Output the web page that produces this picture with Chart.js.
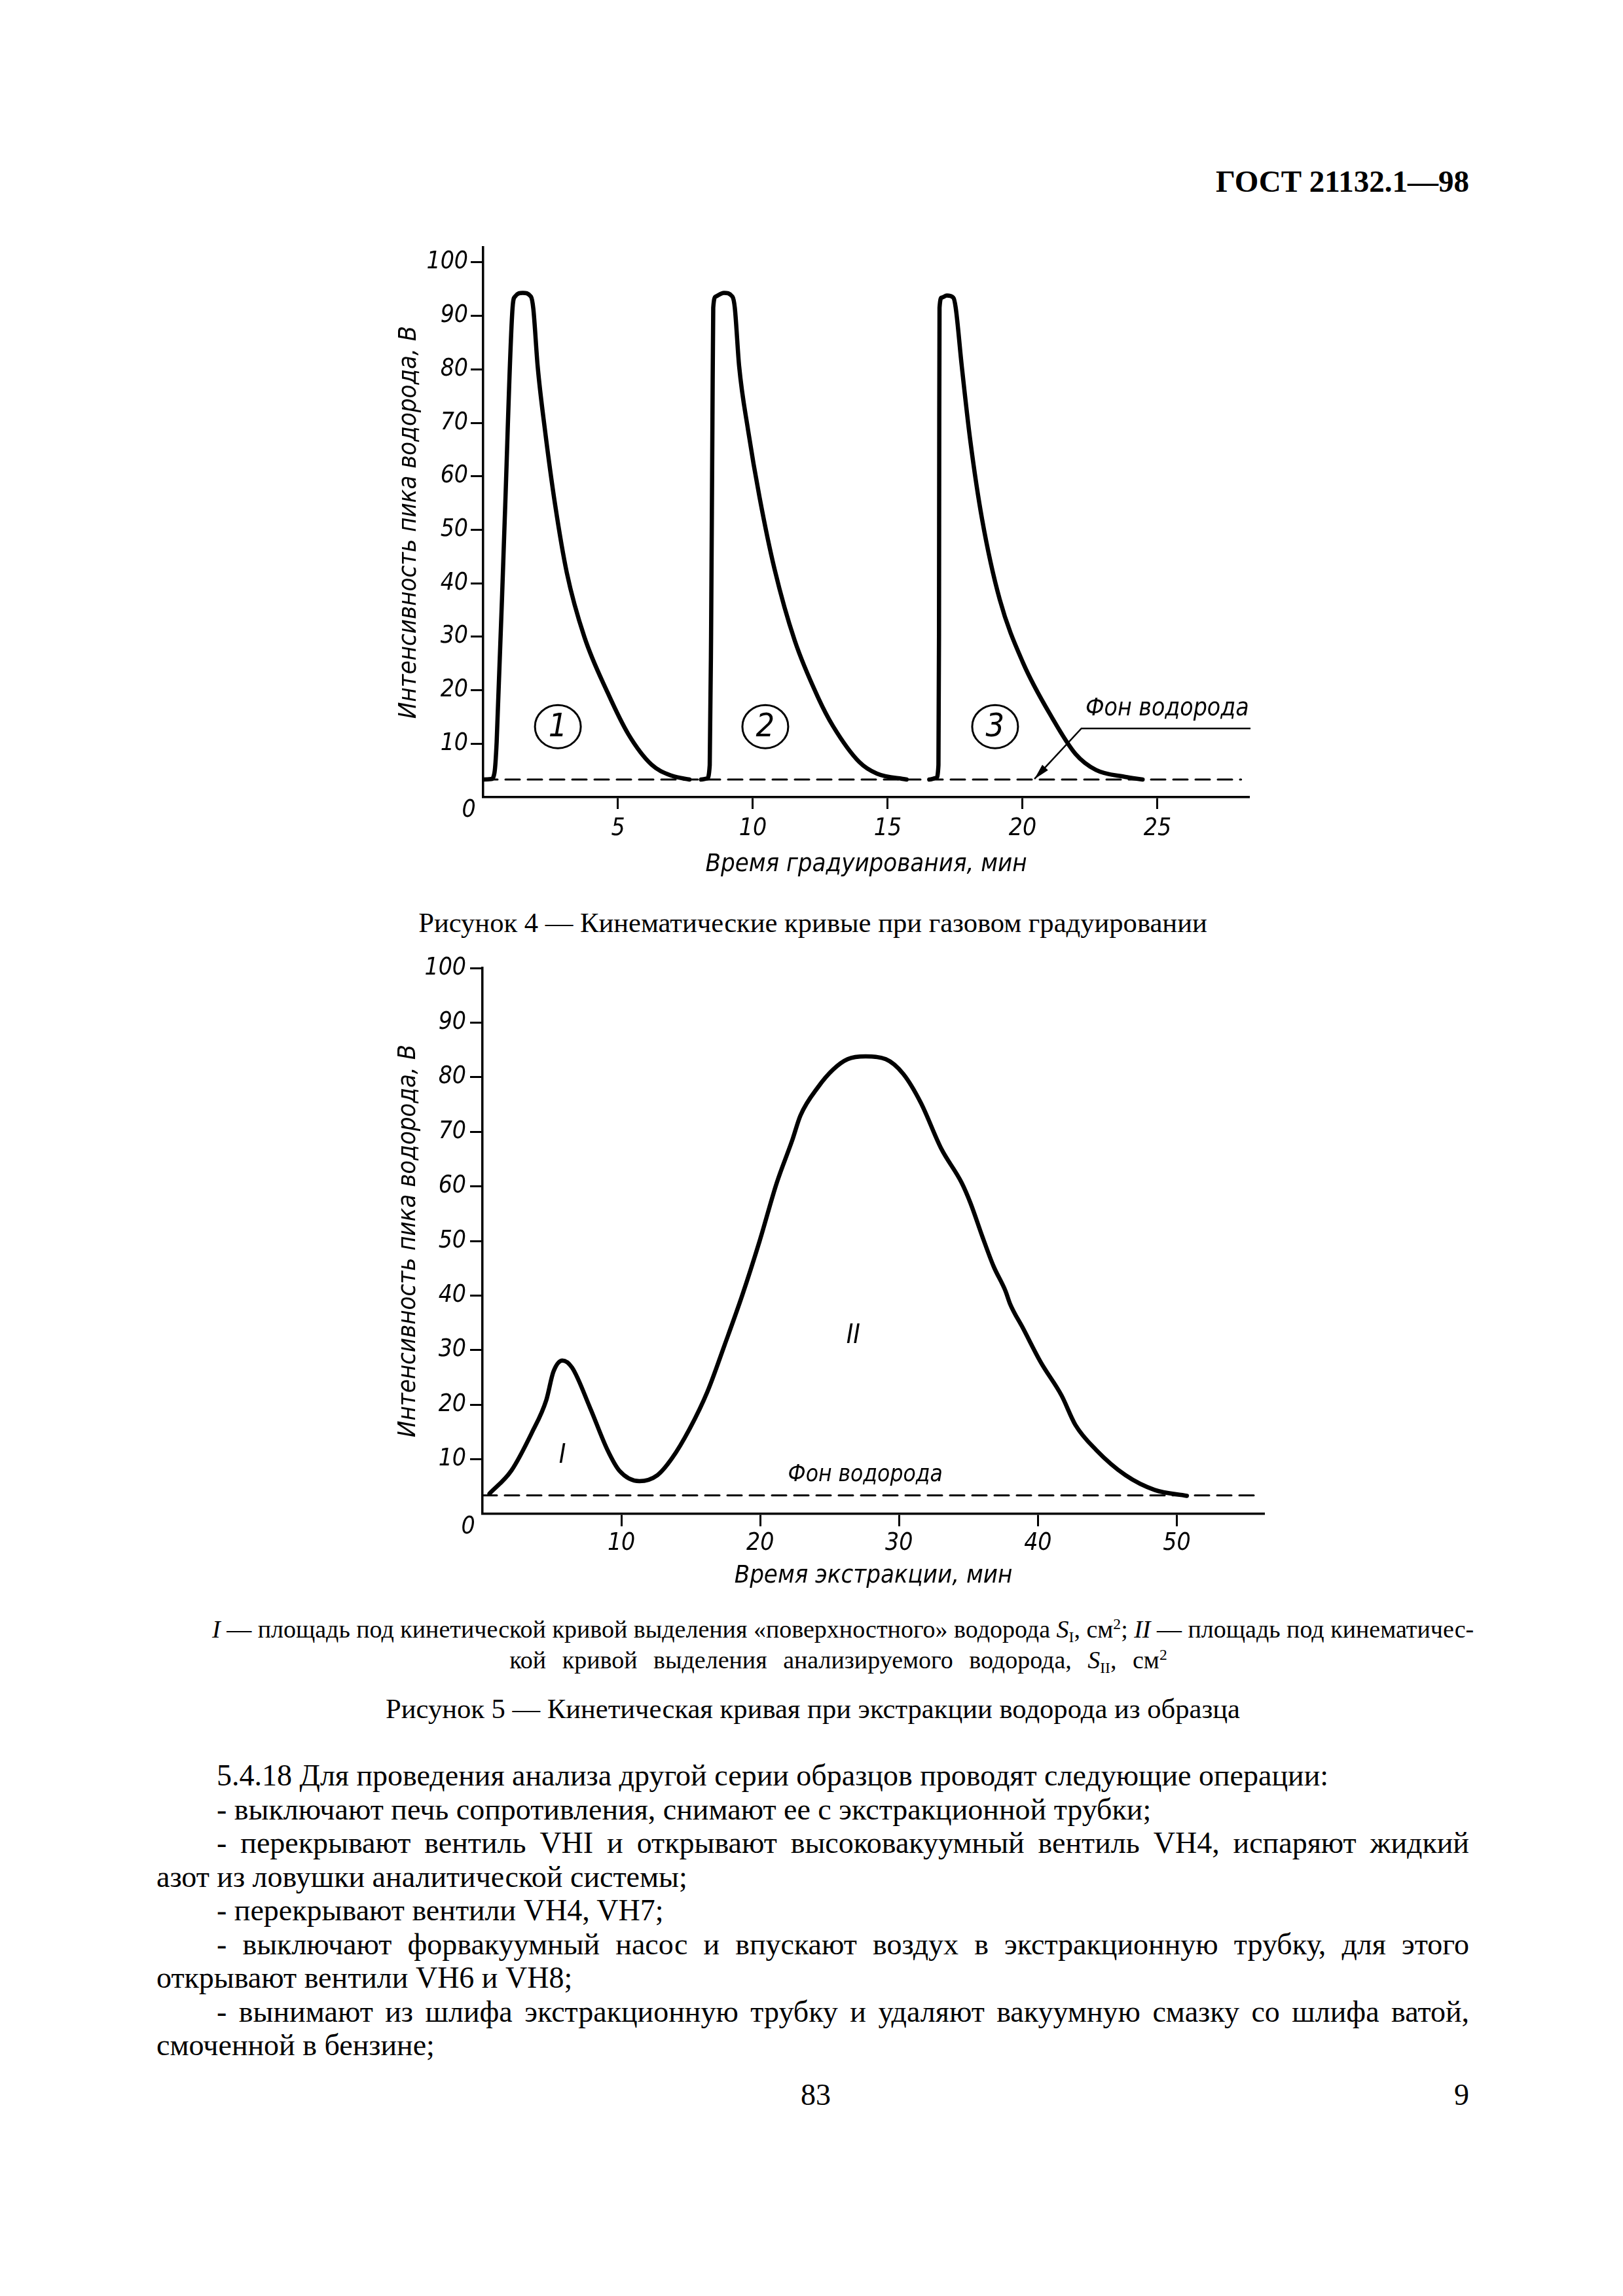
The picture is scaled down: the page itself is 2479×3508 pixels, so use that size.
<!DOCTYPE html>
<html lang="ru">
<head>
<meta charset="utf-8">
<title>ГОСТ 21132.1—98, с. 9</title>
<script src="https://cdn.jsdelivr.net/npm/chart.js@4.4.1/dist/chart.umd.min.js"></script>
<style>
  html, body { margin: 0; padding: 0; background: #fff; }
  body {
    width: 2479px; height: 3508px; position: relative; overflow: hidden; color: #000;
    font-family: "Liberation Serif", "Times New Roman", "DejaVu Serif", serif;
  }
  .abs { position: absolute; white-space: nowrap; }
  canvas { position: absolute; left: 560px; }
  #head { right: 235px; top: 254px; font-size: 47px; line-height: 47px; font-weight: bold; }
  .cap { left: 239px; width: 2005px; text-align: center; font-size: 42.6px; line-height: 48px; }
  .legend { position: absolute; left: 324px; width: 1913px; font-size: 38px; line-height: 47px; }
  .legend div { white-space: nowrap; }
  .legend .c { word-spacing: 15px; }
  .text { position: absolute; left: 239px; top: 2687px; width: 2005px; font-size: 46px; line-height: 51.5px; }
  .text div { white-space: nowrap; }
  .ind { padding-left: 92px; }
  .j { text-align: justify; text-align-last: justify; }
  .c { text-align: center; text-align-last: center; }
  sub, sup { font-size: 62%; line-height: 0; }
  sub { vertical-align: -0.3em; }
  sup { vertical-align: 0.55em; }
</style>
</head>
<body>
<div id="head" class="abs">ГОСТ 21132.1—98</div>

<canvas id="fig4" width="1400" height="1000" style="top:360px"></canvas>
<div class="abs cap" style="top:1386px">Рисунок 4 — Кинематические кривые при газовом градуировании</div>

<canvas id="fig5" width="1400" height="1020" style="top:1440px"></canvas>
<div class="legend" style="top:2466px">
  <div class="j"><i>I</i> — площадь под кинетической кривой выделения «поверхностного» водорода <i>S</i><sub>I</sub>, см<sup>2</sup>; <i>II</i> — площадь под кинематичес-</div>
  <div class="c">кой кривой выделения анализируемого водорода, <i>S</i><sub>II</sub>, см<sup>2</sup></div>
</div>
<div class="abs cap" style="top:2587px">Рисунок 5 — Кинетическая кривая при экстракции водорода из образца</div>

<div class="text">
  <div class="ind">5.4.18 Для проведения анализа другой серии образцов проводят следующие операции:</div>
  <div class="ind">- выключают печь сопротивления, снимают ее с экстракционной трубки;</div>
  <div class="ind j">- перекрывают вентиль VHI и открывают высоковакуумный вентиль VH4, испаряют жидкий</div>
  <div>азот из ловушки аналитической системы;</div>
  <div class="ind">- перекрывают вентили VH4, VH7;</div>
  <div class="ind j">- выключают форвакуумный насос и впускают воздух в экстракционную трубку, для этого</div>
  <div>открывают вентили VH6 и VH8;</div>
  <div class="ind j">- вынимают из шлифа экстракционную трубку и удаляют вакуумную смазку со шлифа ватой,</div>
  <div>смоченной в бензине;</div>
</div>

<div class="abs" style="left:1146px;width:200px;text-align:center;top:3175px;font-size:46px;line-height:51.5px">83</div>
<div class="abs" style="right:235px;top:3175px;font-size:46px;line-height:51.5px">9</div>

<script>
// Рисунок 4: время градуирования, мин / интенсивность, В
const peak1Time  = [0, 0.3, 0.42, 0.5, 0.8, 1.09, 1.18, 1.47, 1.77, 1.86, 2.02, 2.29, 2.67, 3.1, 3.75, 4.62, 5.38, 6.24, 7.0, 7.65];
const peak1Value = [3.3, 3.4, 4.6, 10.3, 52, 91.5, 93.6, 94.3, 93.6, 91.3, 80.6, 68.7, 54.6, 42.0, 30.0, 19.5, 11.8, 6.1, 4.0, 3.3];

const peak2Time  = [8.08, 8.3, 8.4, 8.45, 8.5, 8.53, 8.62, 8.93, 9.24, 9.33, 9.49, 9.82, 10.25, 10.8, 11.55, 12.43, 12.97, 13.94, 14.6, 15.7];
const peak2Value = [3.3, 3.5, 6.0, 30, 70, 91.5, 93.6, 94.3, 93.6, 91.5, 80.6, 68.7, 56.0, 42.7, 29.3, 18.5, 13.3, 6.6, 4.4, 3.3];

const peak3Time  = [16.54, 16.8, 16.88, 16.9, 16.91, 16.92, 17.0, 17.19, 17.43, 17.52, 17.74, 18.06, 18.5, 19.15, 20.01, 21.1, 21.96, 22.72, 23.8, 24.45];
const peak3Value = [3.3, 3.6, 6.0, 30, 70, 91.5, 93.4, 93.8, 93.4, 91.5, 80.8, 66.7, 51.9, 37.0, 25.2, 14.8, 8.1, 5.1, 3.8, 3.3];

const fig4BackTime  = [0, 28.1];
const fig4BackValue = [3.3, 3.3];

const fig4XTicks = [5, 10, 15, 20, 25];
const fig4YTicks = [10, 20, 30, 40, 50, 60, 70, 80, 90, 100];

// Рисунок 5: время экстракции, мин / интенсивность, В
const extractTime  = [0.5, 2.07, 3.54, 4.6, 5.1, 5.75, 6.45, 7.75, 9.0, 9.86, 11.3, 12.6, 13.65, 14.9, 16.2, 17.43, 18.7, 19.96, 21.2, 22.3, 22.9,
                      24.2, 25.25, 26.3, 27.6, 29.04, 30.3, 31.57, 33.04, 34.5, 35.15, 36.0, 36.8, 37.67, 37.99, 38.95, 40.2, 41.7, 42.7, 44.2, 46.3, 48.4, 50.73];
const extractValue = [3.7, 7.9, 14.8, 20.9, 26.0, 28.1, 26.8, 19.4, 11.7, 7.9, 6.0, 7.1, 10.2, 15.5, 22.4, 30.9, 40.0, 50.0, 60.7, 68.4, 73.0,
                      78.3, 81.4, 83.3, 83.8, 83.3, 80.6, 75.3, 66.9, 60.7, 56.9, 50.8, 45.4, 40.8, 38.5, 33.9, 27.8, 21.7, 16.3, 11.7, 7.1, 4.4, 3.3];

const fig5BackTime  = [0, 55.8];
const fig5BackValue = [3.4, 3.4];

const fig5XTicks = [10, 20, 30, 40, 50];
const fig5YTicks = [10, 20, 30, 40, 50, 60, 70, 80, 90, 100];

const techFont = '"Liberation Sans Narrow", "DejaVu Sans Condensed", "Liberation Sans", sans-serif';
const tickFont = { family: techFont, size: 37, style: 'italic', lineHeight: 1.2 };
const titleFont = { family: techFont, size: 38, style: 'italic', lineHeight: 1.2 };

const toPoints = (xs, ys) => xs.map((x, i) => ({ x: x, y: ys[i] }));

const curve = (xs, ys) => ({
  data: toPoints(xs, ys),
  borderColor: '#000',
  borderWidth: 6.5,
  cubicInterpolationMode: 'monotone',
  fill: false,
});

const dashed = (xs, ys) => ({
  data: toPoints(xs, ys),
  borderColor: '#000',
  borderWidth: 3,
  borderDash: [22, 12],
  tension: 0,
  fill: false,
});

// подписи внутри поля графика: "0", номера в кружках, "Фон водорода", выноска
const notesPlugin = {
  id: 'notes',
  afterDatasetsDraw(chart, args, opts) {
    const ctx = chart.ctx;
    const sx = chart.scales.x, sy = chart.scales.y;
    const px = v => sx.getPixelForValue(v);
    const py = v => sy.getPixelForValue(v);
    ctx.save();
    ctx.fillStyle = '#000';
    ctx.strokeStyle = '#000';

    ctx.font = 'italic 37px ' + techFont;
    ctx.textAlign = 'center';
    ctx.textBaseline = 'middle';
    ctx.fillText('0', px(0) - 22, py(0) + 20);

    (opts.circles || []).forEach(c => {
      const cx = px(c.x), cy = py(c.y);
      ctx.lineWidth = 3;
      ctx.beginPath();
      ctx.ellipse(cx, cy, 35, 33, 0, 0, Math.PI * 2);
      ctx.stroke();
      ctx.font = 'italic 50px ' + techFont;
      ctx.fillText(c.label, cx, cy + 2);
    });

    (opts.texts || []).forEach(t => {
      ctx.font = 'italic ' + t.size + 'px ' + techFont;
      ctx.textAlign = t.align || 'center';
      ctx.textBaseline = t.baseline || 'middle';
      ctx.fillText(t.text, px(t.x), py(t.y));
    });

    if (opts.leader) {
      const p = opts.leader.map(d => [px(d[0]), py(d[1])]);
      ctx.lineWidth = 2.5;
      ctx.beginPath();
      ctx.moveTo(p[0][0], p[0][1]);
      p.slice(1).forEach(q => ctx.lineTo(q[0], q[1]));
      ctx.stroke();
      const tip = p[p.length - 1], prev = p[p.length - 2];
      const a = Math.atan2(tip[1] - prev[1], tip[0] - prev[0]);
      ctx.beginPath();
      ctx.moveTo(tip[0], tip[1]);
      ctx.lineTo(tip[0] - 24 * Math.cos(a) + 6 * Math.sin(a), tip[1] - 24 * Math.sin(a) - 6 * Math.cos(a));
      ctx.lineTo(tip[0] - 24 * Math.cos(a) - 6 * Math.sin(a), tip[1] - 24 * Math.sin(a) + 6 * Math.cos(a));
      ctx.closePath();
      ctx.fill();
    }
    ctx.restore();
  }
};

function makeOptions(o) {
  const noPad = s => { s.paddingTop = 0; s.paddingBottom = 0; s.paddingLeft = 0; s.paddingRight = 0; };
  return {
    responsive: false,
    animation: false,
    devicePixelRatio: 1,
    events: [],
    layout: { padding: { top: o.padTop, right: o.padRight, left: 0, bottom: 0 } },
    elements: { point: { radius: 0, hoverRadius: 0 }, line: { borderCapStyle: 'round', borderJoinStyle: 'round' } },
    plugins: { legend: { display: false }, tooltip: { enabled: false }, notes: o.notes },
    scales: {
      x: {
        type: 'linear', min: 0, max: o.xMax,
        afterBuildTicks: s => { s.ticks = o.xTicks.map(v => ({ value: v })); },
        afterFit: s => { s.height = o.xAxisHeight; noPad(s); },
        grid: { drawOnChartArea: false, drawTicks: true, tickLength: o.xTickLen, tickWidth: 3, tickColor: '#000' },
        border: { display: true, color: '#000', width: 3.5 },
        ticks: { color: '#000', padding: o.xTickPad, maxRotation: 0, autoSkip: false, font: tickFont },
        title: { display: true, text: o.xTitle, color: '#000', font: titleFont, padding: { top: 0, bottom: o.xTitlePad } },
      },
      y: {
        type: 'linear', min: 0, max: o.yMax,
        afterBuildTicks: s => { s.ticks = o.yTicks.map(v => ({ value: v })); },
        afterFit: s => { s.width = o.yAxisWidth; noPad(s); },
        grid: { drawOnChartArea: false, drawTicks: true, tickLength: 19, tickWidth: 3, tickColor: '#000' },
        border: { display: true, color: '#000', width: 3.5 },
        ticks: { color: '#000', padding: o.yTickPad, autoSkip: false, font: tickFont },
        title: { display: true, text: 'Интенсивность пика водорода, В', color: '#000', font: titleFont, padding: { top: o.yTitlePad, bottom: 0 } },
      },
    },
  };
}

const fig4 = new Chart(document.getElementById('fig4'), {
  type: 'line',
  data: {
    datasets: [
      dashed(fig4BackTime, fig4BackValue),
      curve(peak1Time, peak1Value),
      curve(peak2Time, peak2Value),
      curve(peak3Time, peak3Value),
    ],
  },
  options: makeOptions({
    padTop: 18, padRight: 52, xAxisHeight: 142, yAxisWidth: 178,
    xMax: 28.4, yMax: 102.8, xTicks: fig4XTicks, yTicks: fig4YTicks,
    xTickLen: 18, xTickPad: 8, yTickPad: 4, xTitlePad: 16, yTitlePad: 42,
    xTitle: 'Время градуирования, мин',
    notes: {
      circles: [{ label: '1', x: 2.77, y: 13.2 }, { label: '2', x: 10.46, y: 13.2 }, { label: '3', x: 18.98, y: 13.2 }],
      texts: [{ text: 'Фон водорода', x: 22.33, y: 15.3, size: 37, align: 'left', baseline: 'alphabetic' }],
      leader: [[28.45, 12.85], [22.18, 12.85], [20.44, 3.4]],
    },
  }),
  plugins: [notesPlugin],
});

const fig5 = new Chart(document.getElementById('fig5'), {
  type: 'line',
  data: {
    datasets: [
      dashed(fig5BackTime, fig5BackValue),
      curve(extractTime, extractValue),
    ],
  },
  options: makeOptions({
    padTop: 39, padRight: 29, xAxisHeight: 147, yAxisWidth: 177,
    xMax: 56.3, yMax: 100, xTicks: fig5XTicks, yTicks: fig5YTicks,
    xTickLen: 19, xTickPad: 4, yTickPad: 6, xTitlePad: 29, yTitlePad: 41,
    xTitle: 'Время экстракции, мин',
    notes: {
      texts: [
        { text: 'I', x: 5.75, y: 10.6, size: 40 },
        { text: 'II', x: 26.7, y: 32.5, size: 40 },
        { text: 'Фон водорода', x: 22.0, y: 7.1, size: 35, align: 'left' },
      ],
    },
  }),
  plugins: [notesPlugin],
});
</script>
</body>
</html>
